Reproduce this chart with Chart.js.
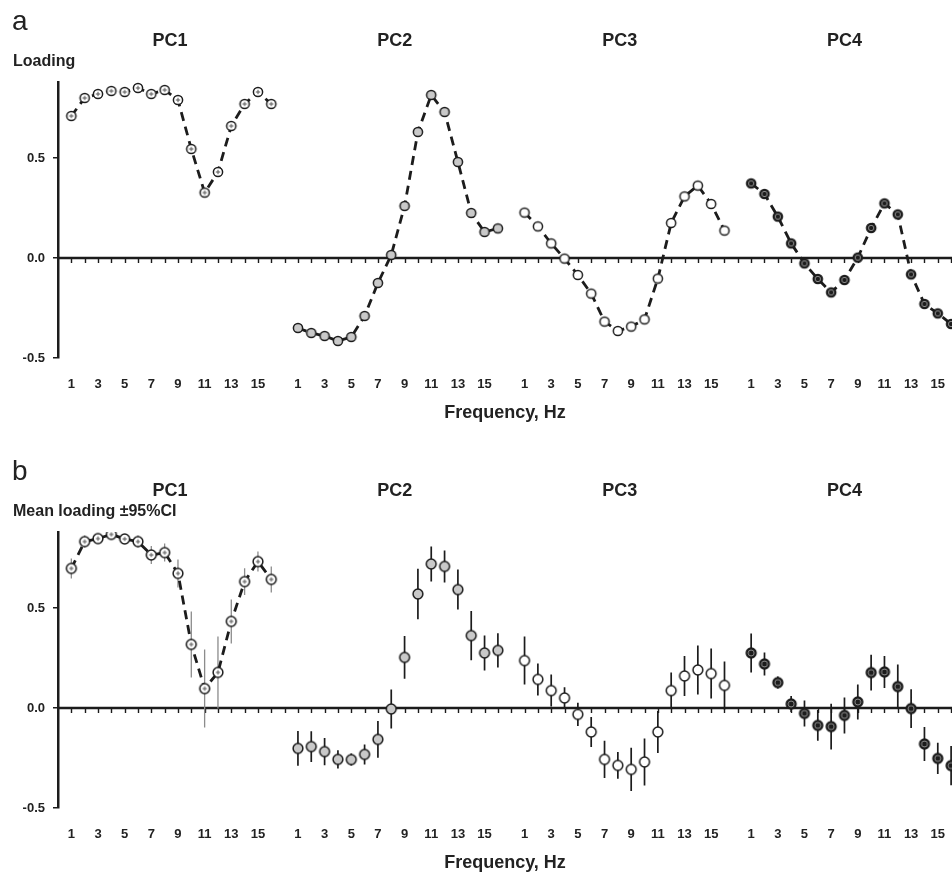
<!DOCTYPE html>
<html><head><meta charset="utf-8">
<script src="https://cdn.jsdelivr.net/npm/chart.js@4.4.1/dist/chart.umd.min.js"></script>
<style>
html,body{margin:0;padding:0;background:#fff;overflow:hidden;width:952px;height:876px;position:relative}
canvas{display:block;position:absolute;left:0}
#ca{top:0}
#cb{top:450px}
</style></head><body>
<canvas id="ca" width="952" height="450" style="width:952px;height:450px"></canvas>
<canvas id="cb" width="952" height="450" style="width:952px;height:450px"></canvas>
<script>
// ---------- data ----------
const FREQ = [1,2,3,4,5,6,7,8,9,10,11,12,13,14,15,16];
const PC_NAMES = ['PC1','PC2','PC3','PC4'];
const GROUP_START = [1,18,35,52];          // axis index of frequency 1 in each PC block
const TICK_FREQS = [1,3,5,7,9,11,13,15];
const Y_TICKS = [-0.5,0,0.5];

// panel a: loadings
const loadPC1 = [0.71,0.80,0.82,0.835,0.83,0.85,0.82,0.84,0.79,0.545,0.327,0.43,0.66,0.77,0.83,0.77];
const loadPC2 = [-0.35,-0.375,-0.39,-0.415,-0.395,-0.29,-0.125,0.015,0.26,0.63,0.815,0.73,0.48,0.225,0.13,0.148];
const loadPC3 = [0.227,0.158,0.073,-0.003,-0.085,-0.178,-0.318,-0.365,-0.343,-0.307,-0.103,0.175,0.308,0.362,0.27,0.137];
const loadPC4 = [0.373,0.32,0.207,0.073,-0.027,-0.105,-0.172,-0.11,0.002,0.15,0.273,0.218,-0.082,-0.23,-0.277,-0.33];

// panel b: mean loadings and 95% CI half-widths
const meanPC1 = [0.698,0.832,0.847,0.868,0.845,0.832,0.765,0.777,0.673,0.318,0.097,0.178,0.433,0.632,0.732,0.643];
const ciPC1   = [0.05,0.03,0.02,0.02,0.02,0.03,0.045,0.045,0.07,0.165,0.195,0.18,0.11,0.067,0.05,0.065];
const meanPC2 = [-0.202,-0.193,-0.218,-0.257,-0.258,-0.232,-0.157,-0.005,0.253,0.57,0.72,0.708,0.592,0.362,0.275,0.288];
const ciPC2   = [0.087,0.077,0.068,0.046,0.03,0.05,0.092,0.098,0.107,0.126,0.088,0.08,0.1,0.123,0.087,0.086];
const meanPC3 = [0.237,0.143,0.087,0.05,-0.032,-0.12,-0.257,-0.287,-0.307,-0.27,-0.12,0.087,0.16,0.19,0.172,0.113];
const ciPC3   = [0.12,0.08,0.08,0.054,0.058,0.075,0.093,0.067,0.108,0.117,0.105,0.09,0.1,0.123,0.125,0.12];
const meanPC4 = [0.275,0.22,0.127,0.02,-0.027,-0.087,-0.093,-0.037,0.03,0.177,0.18,0.107,-0.003,-0.18,-0.252,-0.288];
const ciPC4   = [0.097,0.058,0.03,0.04,0.065,0.077,0.114,0.09,0.088,0.089,0.08,0.11,0.097,0.085,0.078,0.098];

// ---------- styling ----------
const FONT = '"Liberation Sans", Arial, Helvetica, sans-serif';
const INK = '#1c1c1c';
const TXT = '#222';
Chart.defaults.font.family = FONT;
Chart.defaults.color = TXT;

function marker(kind, r) {
  const s = 2 * Math.ceil(r + 1.5);
  const c = document.createElement('canvas');
  c.width = c.height = s;
  const g = c.getContext('2d');
  const m = s / 2;
  g.lineWidth = 1.5; g.strokeStyle = INK;
  g.beginPath(); g.arc(m, m, r, 0, Math.PI * 2);
  if (kind === 'cross') {
    g.fillStyle = '#fff'; g.fill(); g.stroke();
    g.strokeStyle = '#555'; g.lineWidth = 1;
    g.beginPath(); g.moveTo(m - 2.2, m); g.lineTo(m + 2.2, m); g.moveTo(m, m - 2.2); g.lineTo(m, m + 2.2); g.stroke();
  } else if (kind === 'grey') {
    g.fillStyle = '#c9c9c9'; g.fill(); g.stroke();
  } else if (kind === 'open') {
    g.fillStyle = '#fff'; g.fill(); g.stroke();
  } else {
    g.fillStyle = INK; g.fill(); g.stroke();
    g.strokeStyle = '#8f8f8f'; g.lineWidth = 1;
    g.beginPath(); g.arc(m, m, r - 1.9, 0, Math.PI * 2); g.stroke();
  }
  return c;
}
const KINDS = ['cross','grey','open','dark'];

function pts(g, vals) {
  return vals.map((v, i) => ({x: GROUP_START[g] + FREQ[i] - 1, y: v}));
}
function bars(g, means, cis) {
  const out = [];
  means.forEach((m, i) => {
    const x = GROUP_START[g] + FREQ[i] - 1;
    out.push({x, y: m - cis[i]}, {x, y: m + cis[i]}, {x, y: null});
  });
  return out;
}

const decor = {
  id: 'decor',
  beforeDatasetsDraw(chart, args, opts) {
    const {ctx, chartArea, scales: {x, y}} = chart;
    const y0 = Math.round(y.getPixelForValue(0));
    ctx.save();
    ctx.strokeStyle = INK;
    ctx.lineWidth = 1.4;
    ctx.beginPath();
    for (let i = 1; i <= Math.floor(x.max); i++) {
      const px = Math.round(x.getPixelForValue(i)) + 0.5;
      ctx.moveTo(px, y0); ctx.lineTo(px, y0 + 5);
    }
    ctx.stroke();
    ctx.lineWidth = 2.5;
    ctx.beginPath(); ctx.moveTo(chartArea.left, y0); ctx.lineTo(chartArea.right, y0); ctx.stroke();
    ctx.restore();
  },
  afterDraw(chart, args, opts) {
    const {ctx, scales: {x}} = chart;
    ctx.save();
    ctx.fillStyle = TXT;
    ctx.textBaseline = 'alphabetic';
    ctx.textAlign = 'left';
    ctx.font = '28px ' + FONT;
    ctx.fillText(opts.letter, 12, 30);
    ctx.font = 'bold 16px ' + FONT;
    ctx.fillText(opts.ylabel, 13, 66);
    ctx.font = 'bold 18px ' + FONT;
    ctx.textAlign = 'center';
    PC_NAMES.forEach((name, g) => ctx.fillText(name, x.getPixelForValue(GROUP_START[g] + 7.4 - 0.13 * g), 45.5));
    ctx.restore();
  }
};

function options(letter, ylabel) {
  return {
    responsive: false, devicePixelRatio: 1, animation: false,
    layout: {autoPadding: false, padding: {top: 82, left: 0, right: 0, bottom: 0}},
    plugins: {legend: {display: false}, tooltip: {enabled: false}, decor: {letter, ylabel}},
    elements: {line: {tension: 0}},
    scales: {
      x: {
        type: 'linear', min: 0, max: (952 - 58) / 13.33, bounds: 'data',
        grid: {display: false, drawTicks: false}, border: {display: false},
        afterFit(s) { s.height = 92; s.paddingLeft = 0; s.paddingRight = 0; },
        afterBuildTicks(s) {
          const t = [];
          GROUP_START.forEach(g0 => TICK_FREQS.forEach(f => t.push({value: g0 + f - 1})));
          s.ticks = t;
        },
        ticks: {autoSkip: false, maxRotation: 0, minRotation: 0, padding: 19, color: TXT,
          font: {size: 13, weight: 'bold'},
          callback: (v) => String(((Math.round(v) - 1) % 17) + 1)},
        title: {display: true, text: 'Frequency, Hz', color: TXT, font: {size: 18, weight: 'bold'},
          padding: {top: 0, bottom: 26}}
      },
      y: {
        type: 'linear', min: -0.5, max: 0.88, bounds: 'data',
        afterFit(s) { s.width = 58; s.paddingTop = 0; s.paddingBottom = 0; },
        afterBuildTicks(s) { s.ticks = Y_TICKS.map(v => ({value: v})); },
        grid: {display: true, drawOnChartArea: false, drawTicks: true, tickLength: 5, color: INK, lineWidth: 1.5},
        border: {display: true, color: INK, width: 2.5},
        ticks: {padding: 8, color: TXT, font: {size: 13, weight: 'bold'}, callback: (v) => Number(v).toFixed(1)}
      }
    }
  };
}

// ---------- panel a ----------
const loadArrays = [loadPC1, loadPC2, loadPC3, loadPC4];
new Chart(document.getElementById('ca'), {
  type: 'line',
  data: {
    datasets: loadArrays.map((vals, g) => ({
      label: PC_NAMES[g],
      data: pts(g, vals),
      borderColor: INK, borderWidth: 2.8, borderDash: [9, 6],
      pointStyle: marker(KINDS[g], 4.6), pointRadius: 5, pointHoverRadius: 5,
      fill: false
    }))
  },
  options: options('a', 'Loading'),
  plugins: [decor]
});

// ---------- panel b ----------
const meanArrays = [meanPC1, meanPC2, meanPC3, meanPC4];
const ciArrays = [ciPC1, ciPC2, ciPC3, ciPC4];
const dsB = [];
meanArrays.forEach((means, g) => {
  dsB.push({
    label: PC_NAMES[g] + ' CI',
    data: bars(g, means, ciArrays[g]),
    borderColor: g === 0 ? '#8c8c8c' : INK, borderWidth: g === 0 ? 1.3 : 1.7,
    pointRadius: 0, spanGaps: false, fill: false, order: 2
  });
  dsB.push({
    label: PC_NAMES[g],
    data: pts(g, means),
    showLine: g === 0,
    borderColor: INK, borderWidth: 2.8, borderDash: [9, 6],
    pointStyle: marker(KINDS[g], 4.9), pointRadius: 5, pointHoverRadius: 5,
    fill: false, order: 1
  });
});
new Chart(document.getElementById('cb'), {
  type: 'line',
  data: {datasets: dsB},
  options: options('b', 'Mean loading ±95%CI'),
  plugins: [decor]
});
</script>
</body></html>
